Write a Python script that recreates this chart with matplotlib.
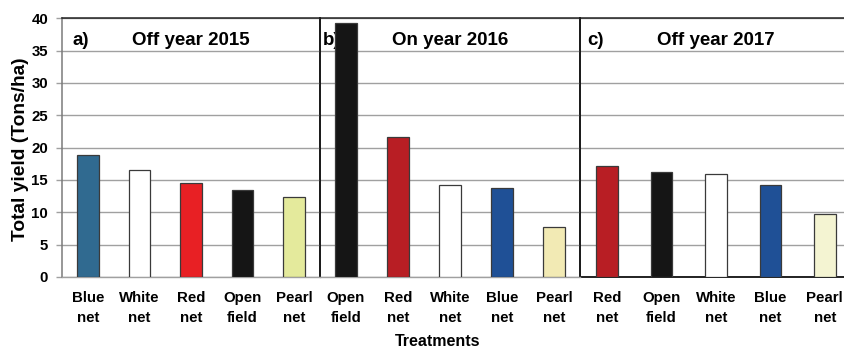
import matplotlib
matplotlib.use("Agg")
import matplotlib.pyplot as plt

plt.rcParams['font.family'] = ['Liberation Sans', 'DejaVu Sans']
plt.rcParams['font.weight'] = 'bold'

# Yield data (Tons/ha) for each season
labels_2015 = ["Blue\nnet", "White\nnet", "Red\nnet", "Open\nfield", "Pearl\nnet"]
yield_2015 = [18.8, 16.6, 14.6, 13.4, 12.4]
colors_2015 = ["#306a90", "#ffffff", "#e82024", "#151515", "#e4ea9c"]

labels_2016 = ["Open\nfield", "Red\nnet", "White\nnet", "Blue\nnet", "Pearl\nnet"]
yield_2016 = [39.2, 21.6, 14.2, 13.7, 7.7]
colors_2016 = ["#151515", "#b81e24", "#ffffff", "#1f5096", "#f2eab4"]

labels_2017 = ["Red\nnet", "Open\nfield", "White\nnet", "Blue\nnet", "Pearl\nnet"]
yield_2017 = [17.2, 16.3, 15.9, 14.3, 9.7]
colors_2017 = ["#b81e24", "#151515", "#ffffff", "#1f5096", "#f4f4d2"]

panel_tags = ["a)", "b)", "c)"]
panel_titles = ["Off year 2015", "On year 2016", "Off year 2017"]
y_ticks = [0, 5, 10, 15, 20, 25, 30, 35, 40]

W, H = 845, 347
fig = plt.figure(figsize=(W / 100, H / 100), dpi=100)

y_bottom_px, y_top_px = 277, 18.3
panel_px = [(62, 320), (320, 580), (580, 852)]
tag_x = [0.039, 0.012, 0.026]
bar_px = 21.5

panels = [
    (labels_2015, yield_2015, colors_2015),
    (labels_2016, yield_2016, colors_2016),
    (labels_2017, yield_2017, colors_2017),
]

for i, ((x0, x1), (labs, vals, cols)) in enumerate(zip(panel_px, panels)):
    ax = fig.add_axes([x0 / W, (H - y_bottom_px) / H, (x1 - x0) / W,
                       (y_bottom_px - y_top_px) / H])
    ax.set_zorder(3 - i)
    ax.patch.set_alpha(0)
    pos = list(range(len(vals)))
    width = bar_px / ((x1 - x0) / len(vals))
    ax.bar(pos, vals, width=width, color=cols, edgecolor="#3a3a3a",
           linewidth=0.9, zorder=3)
    ax.set_xlim(-0.5, len(vals) - 0.5)
    ax.set_ylim(0, 40)
    ax.set_yticks(y_ticks)
    ax.grid(axis="y", color="#a0a0a0", linewidth=1.0, zorder=0)
    ax.set_axisbelow(True)
    ax.set_xticks(pos)
    ax.set_xticklabels(labs, fontsize=10.8, fontweight="bold", linespacing=1.6)
    ax.tick_params(axis="x", length=0, pad=10)
    if i == 0:
        ax.tick_params(axis="y", length=4, color="#a0a0a0", width=1.0,
                       labelsize=10.8, pad=6)
        for t in ax.get_yticklabels():
            t.set_fontweight("bold")
        ax.spines["left"].set_color("#7a7a7a")
    else:
        ax.tick_params(axis="y", length=0, labelleft=False)
        ax.spines["left"].set_color("#111111")
    ax.spines["left"].set_linewidth(1.1)
    ax.spines["top"].set_color("#222222")
    ax.spines["top"].set_linewidth(1.1)
    ax.spines["right"].set_color("#111111")
    ax.spines["right"].set_linewidth(1.1)
    if i == 2:
        ax.spines["bottom"].set_color("#111111")
        ax.spines["bottom"].set_linewidth(1.3)
    else:
        ax.spines["bottom"].set_color("#a0a0a0")
        ax.spines["bottom"].set_linewidth(1.0)
    ax.text(tag_x[i], 0.915, panel_tags[i],
            transform=ax.transAxes, fontsize=13.5, fontweight="bold",
            ha="left", va="center", zorder=1)
    ax.text(0.5, 0.915, panel_titles[i], transform=ax.transAxes,
            fontsize=13.5, fontweight="bold", ha="center", va="center",
            zorder=1)

fig.text(21 / W, 1 - 149 / H, "Total yield (Tons/ha)", rotation=90,
         fontsize=13.8, fontweight="bold", ha="center", va="center")
fig.text(438 / W, 1 - 341 / H, "Treatments", fontsize=11.5,
         fontweight="bold", ha="center", va="center")

fig.savefig("out.png", dpi=100)
